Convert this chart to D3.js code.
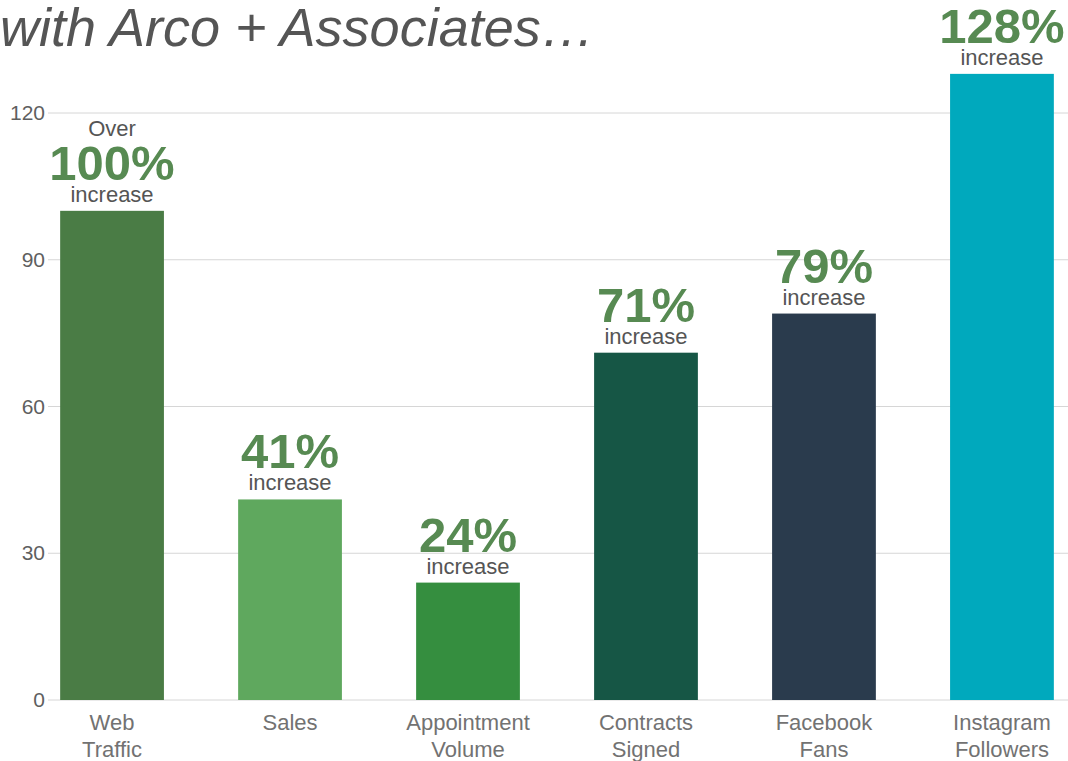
<!DOCTYPE html>
<html>
  <head>
    <meta charset="utf-8">
    <title>Arco + Associates</title>
    <script src="https://cdnjs.cloudflare.com/ajax/libs/d3/7.8.5/d3.min.js"></script>
    <style>
      body { margin: 0; background: #fff; }
      text { font-family: "Liberation Sans", Arial, Helvetica, sans-serif; }
    </style>
  </head>
  <body>
    <div id="vis"></div>
    <script>
      var categories = [["Web", "Traffic"], ["Sales"], ["Appointment", "Volume"],
                        ["Contracts", "Signed"], ["Facebook", "Fans"], ["Instagram", "Followers"]];
      var values = [100, 41, 24, 71, 79, 128];
      var valueLabels = ["100%", "41%", "24%", "71%", "79%", "128%"];
      var prefixes = ["Over", "", "", "", "", ""];
      var colors = ["#4a7c45", "#5fa85e", "#358e3f", "#165645", "#2a3b4d", "#00a9bd"];
      var ticks = [0, 30, 60, 90, 120];

      var W = 1068, H = 761;
      var svg = d3.select("#vis").append("svg").attr("width", W).attr("height", H);

      var x = d3.scaleBand().domain(d3.range(values.length)).range([21, 1093]).paddingInner(0.417).paddingOuter(0.22);
      var y = d3.scaleLinear().domain([0, 120]).range([700, 113]);

      // grid + tick labels
      svg.selectAll("line.grid").data(ticks).enter().append("line")
        .attr("class", "grid")
        .attr("x1", 48).attr("x2", W)
        .attr("y1", function(d){ return y(d); }).attr("y2", function(d){ return y(d); })
        .attr("stroke", "#d6d6d6").attr("stroke-width", 1);

      svg.selectAll("text.tick").data(ticks).enter().append("text")
        .attr("class", "tick")
        .attr("x", 45).attr("y", function(d){ return y(d) + 7; })
        .attr("text-anchor", "end").attr("font-size", 21).attr("fill", "#5f5f5f")
        .text(function(d){ return d; });

      // bars
      svg.selectAll("rect").data(values).enter().append("rect")
        .attr("x", function(d, i){ return x(i); })
        .attr("y", function(d){ return y(d); })
        .attr("width", x.bandwidth())
        .attr("height", function(d){ return y(0) - y(d); })
        .attr("fill", function(d, i){ return colors[i]; });

      // category labels
      var cat = svg.selectAll("text.cat").data(categories).enter().append("text")
        .attr("class", "cat")
        .attr("text-anchor", "middle").attr("font-size", 22).attr("fill", "#727272");
      cat.each(function(lines, i){
        d3.select(this).selectAll("tspan").data(lines).enter().append("tspan")
          .attr("x", x(i) + x.bandwidth() / 2)
          .attr("y", function(d, j){ return 730 + j * 27; })
          .text(function(d){ return d; });
      });

      // value annotations
      svg.selectAll("text.inc").data(values).enter().append("text")
        .attr("class", "inc")
        .attr("x", function(d, i){ return x(i) + x.bandwidth() / 2; })
        .attr("y", function(d){ return y(d) - 9; })
        .attr("text-anchor", "middle").attr("font-size", 22).attr("fill", "#555")
        .text("increase");

      svg.selectAll("text.pct").data(values).enter().append("text")
        .attr("class", "pct")
        .attr("x", function(d, i){ return x(i) + x.bandwidth() / 2; })
        .attr("y", function(d){ return y(d) - 31; })
        .attr("text-anchor", "middle").attr("font-size", 49).attr("font-weight", "bold").attr("fill", "#578a52")
        .text(function(d, i){ return valueLabels[i]; });

      svg.selectAll("text.pre").data(values).enter().append("text")
        .attr("class", "pre")
        .attr("x", function(d, i){ return x(i) + x.bandwidth() / 2; })
        .attr("y", function(d){ return y(d) - 75; })
        .attr("text-anchor", "middle").attr("font-size", 22).attr("fill", "#555")
        .text(function(d, i){ return prefixes[i]; });

      // title (cut at top like the original slide)
      svg.append("text")
        .attr("x", 0).attr("y", 46)
        .attr("font-size", 54).attr("font-style", "italic").attr("fill", "#555")
        .text("with Arco + Associates\u2026");
    </script>
  </body>
</html>
